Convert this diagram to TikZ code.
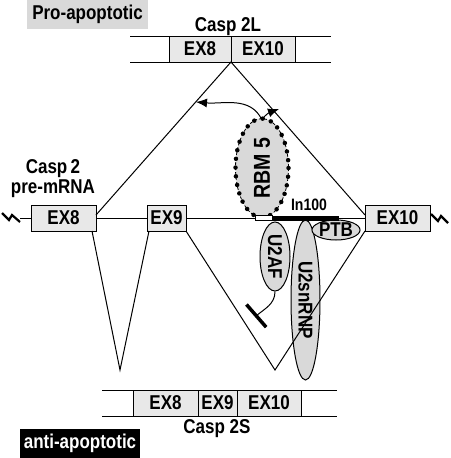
\documentclass[tikz,border=0pt]{standalone}
\usepackage{fontspec}
\setmainfont{Liberation Sans}[FakeStretch=0.85]
\usetikzlibrary{positioning,shapes.geometric,arrows.meta}
\definecolor{exfill}{gray}{0.91}
\definecolor{protfill}{gray}{0.85}

\begin{document}
\begin{tikzpicture}[x=1pt,y=-1pt,line width=1pt,
    lbl/.style={font=\fontsize{20}{20}\selectfont\bfseries,inner sep=0pt},
    exon/.style={draw,fill=exfill,inner sep=0pt,outer sep=0pt,minimum height=26pt,lbl},
    prot/.style={ellipse,draw,fill=protfill,inner sep=0pt,lbl},
    brk/.style={line width=2.2pt}]
        \useasboundingbox (0,0) rectangle (450,458);
        % tags
        \node[lbl,fill=protfill,minimum width=121pt,minimum height=29pt] (pro) at (87.5,14.5) {Pro-apoptotic};
        \node[lbl,fill=black,text=white,minimum width=120pt,minimum height=29pt] (anti) at (80,443.5) {anti-apoptotic};
        % Casp 2L
        \draw (130,36) -- (331,36) (130,62) -- (331,62);
        \node[exon,minimum width=62pt] (lex8) at (200,49) {EX8};
        \node[exon,minimum width=64pt,right=0pt of lex8] (lex10) {EX10};
        \node[lbl,anchor=base] (casl) at (228,31) {Casp 2L};
        % Casp 2S
        \draw (102,390) -- (337,390) (102,416) -- (337,416);
        \node[exon,minimum width=65pt] (sex8) at (165.5,403) {EX8};
        \node[exon,minimum width=39pt,right=0pt of sex8] (sex9) {EX9};
        \node[exon,minimum width=64pt,right=0pt of sex9] (sex10) {EX10};
        \node[lbl,anchor=base] (cass) at (217,433) {Casp 2S};
        % pre-mRNA
        \node[exon,minimum width=65pt] (ex8) at (63.5,218) {EX8};
        \node[exon,minimum width=39pt] (ex9) at (166.5,218) {EX9};
        \node[exon,minimum width=65pt] (ex10) at (397.5,218) {EX10};
        \node[lbl,align=center] (pre) at (53,179) {Casp\,2\\pre-mRNA};
        \coordinate (brkL) at (20,218);
        \coordinate (brkR) at (430,218);
        \draw[brk] (brkL) ++(-18,-5) -- ++(7,7) -- ++(3,-5) -- ++(8,7);
        \draw[brk] (brkR) ++(1,-4) -- ++(7,7) -- ++(3,-5) -- ++(7,7);
        % proteins
        \node[prot,rotate=90,minimum width=99pt,minimum height=53pt,draw=none,
              font=\fontsize{23}{24}\selectfont\bfseries] (rbm) at (262,168) {RBM 5\hspace{6pt}};
        \draw[line width=0.8pt,dash pattern=on 3pt off 2pt] (rbm.center) ellipse [x radius=26.5,y radius=49.5];
        \draw[line width=4.5pt,line cap=round,dash pattern=on 0pt off 8.75pt] (rbm.center) ellipse [x radius=26.5,y radius=49.5];
        \node[prot,rotate=-90,minimum width=160pt,minimum height=29pt] (u2sn) at (305.5,300) {U2snRNP};
        \node[prot,rotate=-90,minimum width=69pt,minimum height=30pt] (u2af) at (275,256.5) {U2AF};
        \node[prot,minimum width=48pt,minimum height=20pt] (ptb) at (336,230) {PTB};
        % splicing
        \draw (brkL) -- (ex8) (ex8) -- (ex9) (ex9) -- (ex10) (ex10) -- (brkR);
        \draw ([yshift=3pt]ex8.east) -- (lex8.south east) -- ([yshift=3pt]ex10.west);
        \coordinate (v1) at (120,370);
        \coordinate (v2) at (275,370);
        \draw ([xshift=-4pt]ex8.south east) -- (v1) -- ([xshift=2pt]ex9.south west);
        \draw (ex9.south east) -- (v2) -- (ex10.south west);
        % In100
        \node[draw,fill=white,line width=0.6pt,minimum width=17pt,minimum height=5pt,inner sep=0pt,outer sep=0pt] (wbox) at (263.5,218) {};
        \node[fill=black,minimum width=67pt,minimum height=5pt,inner sep=0pt,outer sep=0pt,right=0pt of wbox] (intr) {};
        \node[lbl,font=\fontsize{16.5}{17}\selectfont\bfseries,anchor=base] (inlbl) at (309,210) {In100};
        % RBM5 arrows
        \coordinate (tgtL) at (196,102);
        \coordinate (tgtR) at (279,109);
        \draw[-{Latex[length=11pt,width=9pt]}] ([yshift=-2pt]rbm.east) to[out=115,in=-5] (tgtL);
        \draw[-{Latex[length=11pt,width=9pt]}] ([yshift=-2pt]rbm.east) to[out=60,in=200] (tgtR);
        % U2AF block
        \coordinate (blk) at (255,317);
        \draw[-{Bar[width=30pt,line width=3.5pt]}] (u2af.east) to[out=-90,in=41] (blk);
    \end{tikzpicture}
\end{document}
